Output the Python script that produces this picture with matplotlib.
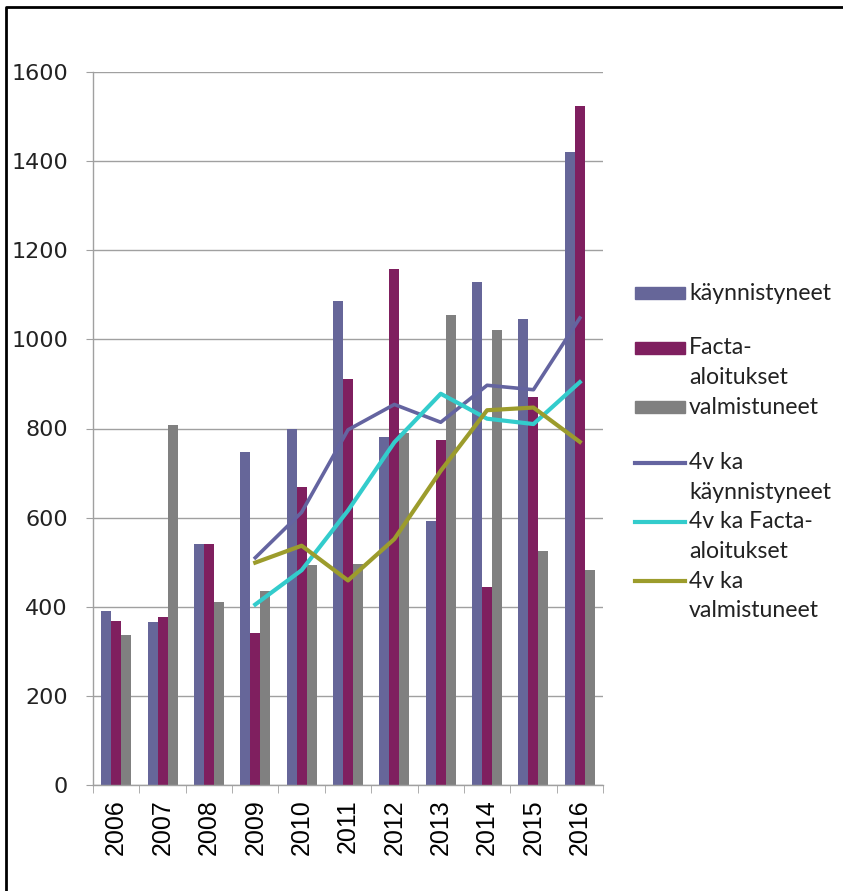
#chart: starts, Facta starts and completions per year, with 4-year moving averages
import numpy as np
import matplotlib
matplotlib.use("Agg")
import matplotlib.pyplot as plt
from matplotlib.patches import Rectangle
from matplotlib.lines import Line2D

# data
vuodet = ["2006", "2007", "2008", "2009", "2010", "2011", "2012", "2013", "2014", "2015", "2016"]
kaynnistyneet = [390, 366, 540, 748, 800, 1086, 780, 592, 1128, 1046, 1421]
facta = [368, 377, 540, 340, 669, 911, 1157, 774, 444, 871, 1524]
valmistuneet = [337, 808, 410, 436, 494, 497, 789, 1055, 1021, 524, 483]
ka_kaynnistyneet = [np.nan, np.nan, np.nan, 510, 612, 797, 854, 814, 897, 887, 1048]
ka_facta = [np.nan, np.nan, np.nan, 405, 482, 616, 769, 878, 822, 810, 904]
ka_valmistuneet = [np.nan, np.nan, np.nan, 499, 537, 459, 552, 705, 841, 847, 770]

nimet = ["käynnistyneet", "Facta-\naloitukset", "valmistuneet",
         "4v ka\nkäynnistyneet", "4v ka Facta-\naloitukset", "4v ka\nvalmistuneet"]
varit = ["#666699", "#7f1f5f", "#808080", "#6464a0", "#33cccc", "#9c9c2c"]

W, H = 843, 891
fig = plt.figure(figsize=(W / 100, H / 100), dpi=100)
ax = fig.add_axes([93 / W, 1 - 785 / H, 510 / W, 713 / H])

x = np.arange(len(vuodet))
w = 0.216
# bars
ax.bar(x - w, kaynnistyneet, w, color=varit[0], zorder=2)
ax.bar(x, facta, w, color=varit[1], zorder=2)
ax.bar(x + w, valmistuneet, w, color=varit[2], zorder=2)
# moving averages
ax.plot(x, ka_kaynnistyneet, color=varit[3], lw=2.6, zorder=3)
ax.plot(x, ka_facta, color=varit[4], lw=3, zorder=3)
ax.plot(x, ka_valmistuneet, color=varit[5], lw=3, zorder=3)

ax.set_xlim(-0.5, len(vuodet) - 0.5)
ax.set_ylim(0, 1600)
ax.set_yticks(range(0, 1601, 200))
ax.yaxis.grid(True, color="#a0a0a0", lw=1)
ax.set_axisbelow(True)
for s in ["top", "right"]:
    ax.spines[s].set_visible(False)
for s in ["left", "bottom"]:
    ax.spines[s].set_color("#a0a0a0")
    ax.spines[s].set_linewidth(1)
ax.tick_params(axis="y", direction="out", length=5, color="#a0a0a0", pad=13,
               labelsize=16, labelcolor="#222222")
for t in ax.get_yticklabels():
    t.set_fontfamily("DejaVu Sans")

# year labels at centres, tick marks between categories
ax.set_xticks(x)
ax.set_xticklabels(vuodet, rotation=90, fontsize=18, fontfamily="Liberation Sans")
ax.set_xticks(np.arange(-0.5, len(vuodet)), minor=True)
ax.tick_params(axis="x", which="major", length=0, pad=10)
ax.tick_params(axis="x", which="minor", length=6, color="#a0a0a0")

# legend drawn by hand (Excel style spacing)
rivit = [293, 348, 407, 463, 522, 581]
for i, nimi in enumerate(nimet):
    yy = rivit[i]
    if i < 3:
        fig.add_artist(Rectangle((635 / W, 1 - (yy + 6) / H), 50 / W, 12 / H,
                                 color=varit[i], transform=fig.transFigure))
    else:
        fig.add_artist(Line2D([635 / W, 685 / W], [1 - yy / H, 1 - yy / H],
                              color=varit[i], lw=3, transform=fig.transFigure))
    for j, osa in enumerate(nimi.split("\n")):
        fig.text(689 / W, 1 - (yy + j * 29.5) / H, osa, fontsize=16.6,
                 fontfamily="Lato", va="center", ha="left", color="#222222")

# frame of the picture
fig.add_artist(Line2D([6 / W, 6 / W, 1], [0, 1 - 7 / H, 1 - 7 / H], color="black",
                      lw=2, transform=fig.transFigure))

plt.savefig("out.png", dpi=100)
